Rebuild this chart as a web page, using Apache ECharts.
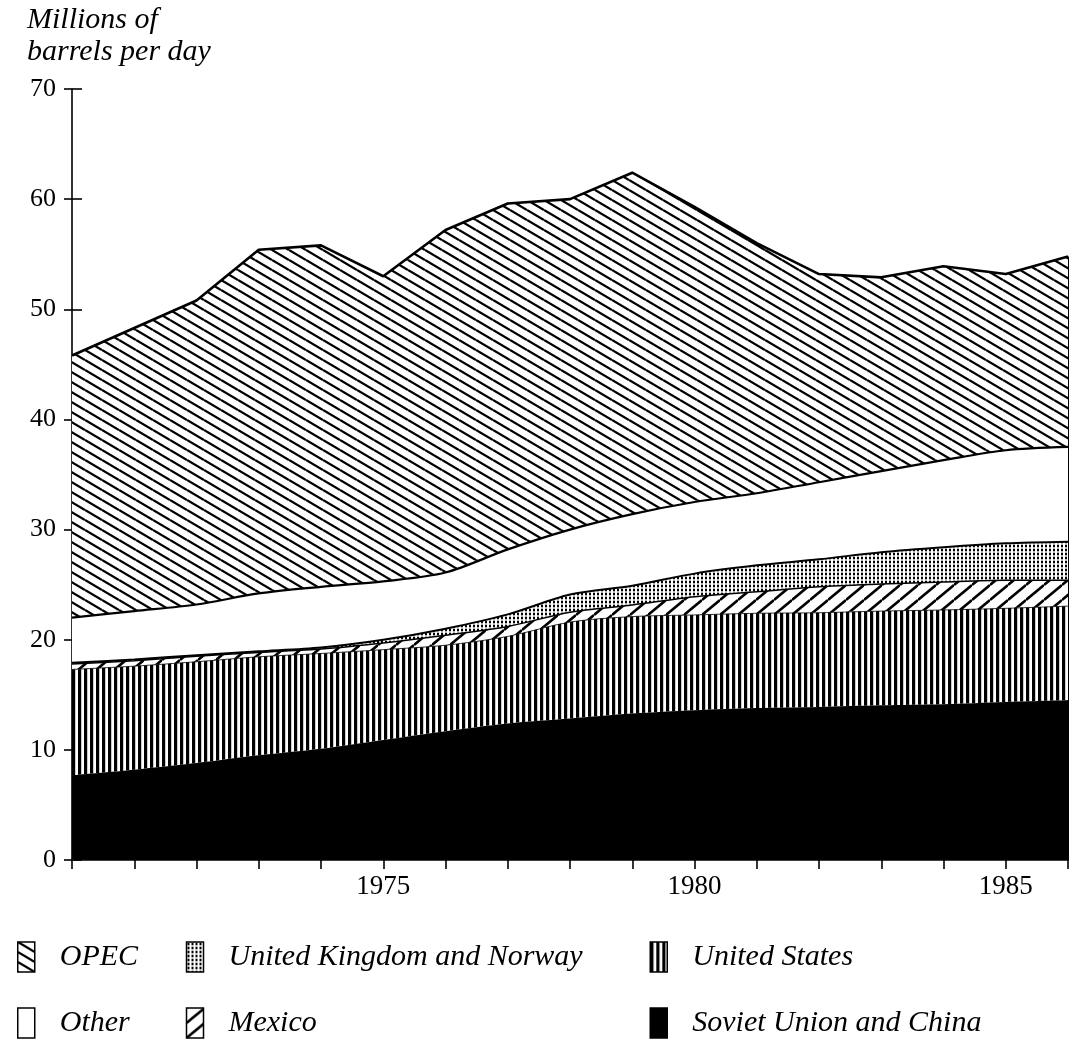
<!DOCTYPE html>
<html><head><meta charset="utf-8">
<script src="https://cdn.jsdelivr.net/npm/echarts@6/dist/echarts.min.js"></script>
<style>html,body{margin:0;padding:0;background:#fff}#c{width:1087px;height:1059px}</style>
</head><body><div id="c"></div>
<script>
// ---- data (millions of barrels per day) ----
const years = ['1970','1971','1972','1973','1974','1975','1976','1977','1978','1979','1980','1981','1982','1983','1984','1985','1986'];
const sovietChina   = [7.7, 8.2, 8.8, 9.5, 10.1, 10.9, 11.7, 12.4, 12.85, 13.3, 13.6, 13.8, 13.9, 14.05, 14.15, 14.35, 14.5];
const unitedStates  = [9.6, 9.4, 9.2, 8.95, 8.65, 8.2, 7.8, 7.9, 8.75, 8.8, 8.65, 8.6, 8.55, 8.55, 8.55, 8.5, 8.55];
const mexico        = [0.5, 0.5, 0.5, 0.4, 0.4, 0.6, 0.9, 0.9, 0.9, 1.05, 1.65, 1.95, 2.35, 2.45, 2.55, 2.55, 2.35];
const ukNorway      = [0.1, 0.1, 0.1, 0.1, 0.15, 0.3, 0.6, 1.1, 1.6, 1.75, 2.1, 2.4, 2.5, 2.9, 3.15, 3.35, 3.5];
const other         = [4.1, 4.4, 4.6, 5.25, 5.5, 5.3, 5.1, 5.9, 5.9, 6.5, 6.5, 6.55, 7.0, 7.35, 7.9, 8.45, 8.6];
const opec          = [23.8, 25.7, 27.6, 31.2, 31.0, 27.7, 31.1, 31.4, 30.0, 31.0, 26.8, 22.7, 18.9, 17.6, 17.6, 16.0, 17.3];
const yTicks = [0,10,20,30,40,50,60,70];
const xLabelYears = ['1975','1980','1985'];
// legend order: row 1 then row 2
const legendOrder = ['OPEC','United Kingdom and Norway','United States','Other','Mexico','Soviet Union and China'];

// ---- fill patterns ----
function tile(w,h,draw){const c=document.createElement('canvas');c.width=w;c.height=h;const g=c.getContext('2d');g.fillStyle='#fff';g.fillRect(0,0,w,h);g.strokeStyle='#000';g.fillStyle='#000';draw(g,w,h);return c;}
function pat(c){return {image:c,repeat:'repeat'};}
const opecPat = pat(tile(17,10,(g,w,h)=>{g.lineWidth=2.3;for(let k=-1;k<=1;k++){g.beginPath();g.moveTo(0,k*h);g.lineTo(w,h+k*h);g.stroke();}}));
const mexPat = pat(tile(18,15,(g,w,h)=>{g.lineWidth=2.6;for(let k=-1;k<=1;k++){g.beginPath();g.moveTo(0,h+k*h);g.lineTo(w,k*h);g.stroke();}}));
const usPat = pat(tile(6,6,(g,w,h)=>{g.fillRect(0,0,3.2,h);}));
const ukPat = pat(tile(4,4,(g,w,h)=>{g.fillRect(1,0.7,2,2.6);}));
const fills = {'OPEC':opecPat,'Other':'#ffffff','United Kingdom and Norway':ukPat,'Mexico':mexPat,'United States':usPat,'Soviet Union and China':'#000'};

const total = years.map((y,i)=>sovietChina[i]+unitedStates[i]+mexico[i]+ukNorway[i]+other[i]+opec[i]);

function areaSeries(name, arr, z, lw, smooth){
  return {name, type:'line', stack:'all', data:arr, z, smooth, showSymbol:false, symbol:'none',
    lineStyle:{color:'#000', width:lw}, itemStyle:{color:'#000'}, areaStyle:{color:fills[name], opacity:1},
    emphasis:{disabled:true}, silent:true, animation:false};
}
const series = [
  areaSeries('Soviet Union and China', sovietChina, 16, 0, 0.3),
  areaSeries('United States', unitedStates, 15, 0.8, 0.3),
  areaSeries('Mexico', mexico, 14, 1.5, 0.3),
  areaSeries('United Kingdom and Norway', ukNorway, 13, 2, 0.3),
  areaSeries('Other', other, 12, 2.2, 0.3),
  areaSeries('OPEC', opec, 11, 2.6, false)
];
series[0].markLine = {silent:true, symbol:'none', label:{show:false}, animation:false,
  lineStyle:{color:'#000', width:2, type:'solid'},
  data:[[{coord:[years[years.length-1],0]},{coord:[years[years.length-1], total[total.length-1]]}]]};

// column text-box widths so the wrapped legend forms three columns
const colTextWidth = [126, 421, 330];
const option = {
  backgroundColor:'#fff', animation:false,
  title:{text:'Millions of\nbarrels per day', left:27, top:4, padding:0,
    textStyle:{fontFamily:'Liberation Serif', fontStyle:'italic', fontWeight:'normal', fontSize:30, lineHeight:32, color:'#000'}},
  legend:{left:17, top:924, padding:0, orient:'horizontal', width:1010, itemWidth:17, itemHeight:30, itemGap:0,
    selectedMode:false, icon:'rect',
    textStyle:{fontFamily:'Liberation Serif', fontStyle:'italic', fontSize:30, lineHeight:66, color:'#000', padding:[0,0,0,20]},
    data:legendOrder.map((n,i)=>({name:n, icon:'rect',
      itemStyle:{color:fills[n], borderColor:'#000', borderWidth:1.5},
      textStyle:{width:colTextWidth[i%3]}}))},
  grid:{left:72, right:19, top:89, bottom:199, containLabel:false},
  xAxis:{type:'category', data:years, boundaryGap:false,
    axisLine:{lineStyle:{color:'#000', width:1.6}},
    axisTick:{show:true, interval:0, length:9, lineStyle:{color:'#000', width:1.6}},
    splitLine:{show:false},
    axisLabel:{interval:0, fontFamily:'Liberation Serif', fontSize:27, color:'#000', margin:13,
      formatter:v=>xLabelYears.includes(v)?v:''}},
  yAxis:[
    {type:'value', min:yTicks[0], max:yTicks[yTicks.length-1], interval:10,
     axisLine:{show:true, lineStyle:{color:'#000', width:1.6}}, axisTick:{show:true, length:8, lineStyle:{color:'#000', width:1.6}},
     splitLine:{show:false}, axisLabel:{fontFamily:'Liberation Serif', fontSize:26, color:'#000', margin:16}},
    {type:'value', position:'left', min:yTicks[0], max:yTicks[yTicks.length-1], interval:10,
     axisLine:{show:false}, axisTick:{show:true, inside:true, length:10, lineStyle:{color:'#000', width:1.6}},
     splitLine:{show:false}, axisLabel:{show:false}}
  ],
  series
};
const chart = echarts.init(document.getElementById('c'), null, {renderer:'canvas'});
chart.setOption(option);
</script></body></html>
